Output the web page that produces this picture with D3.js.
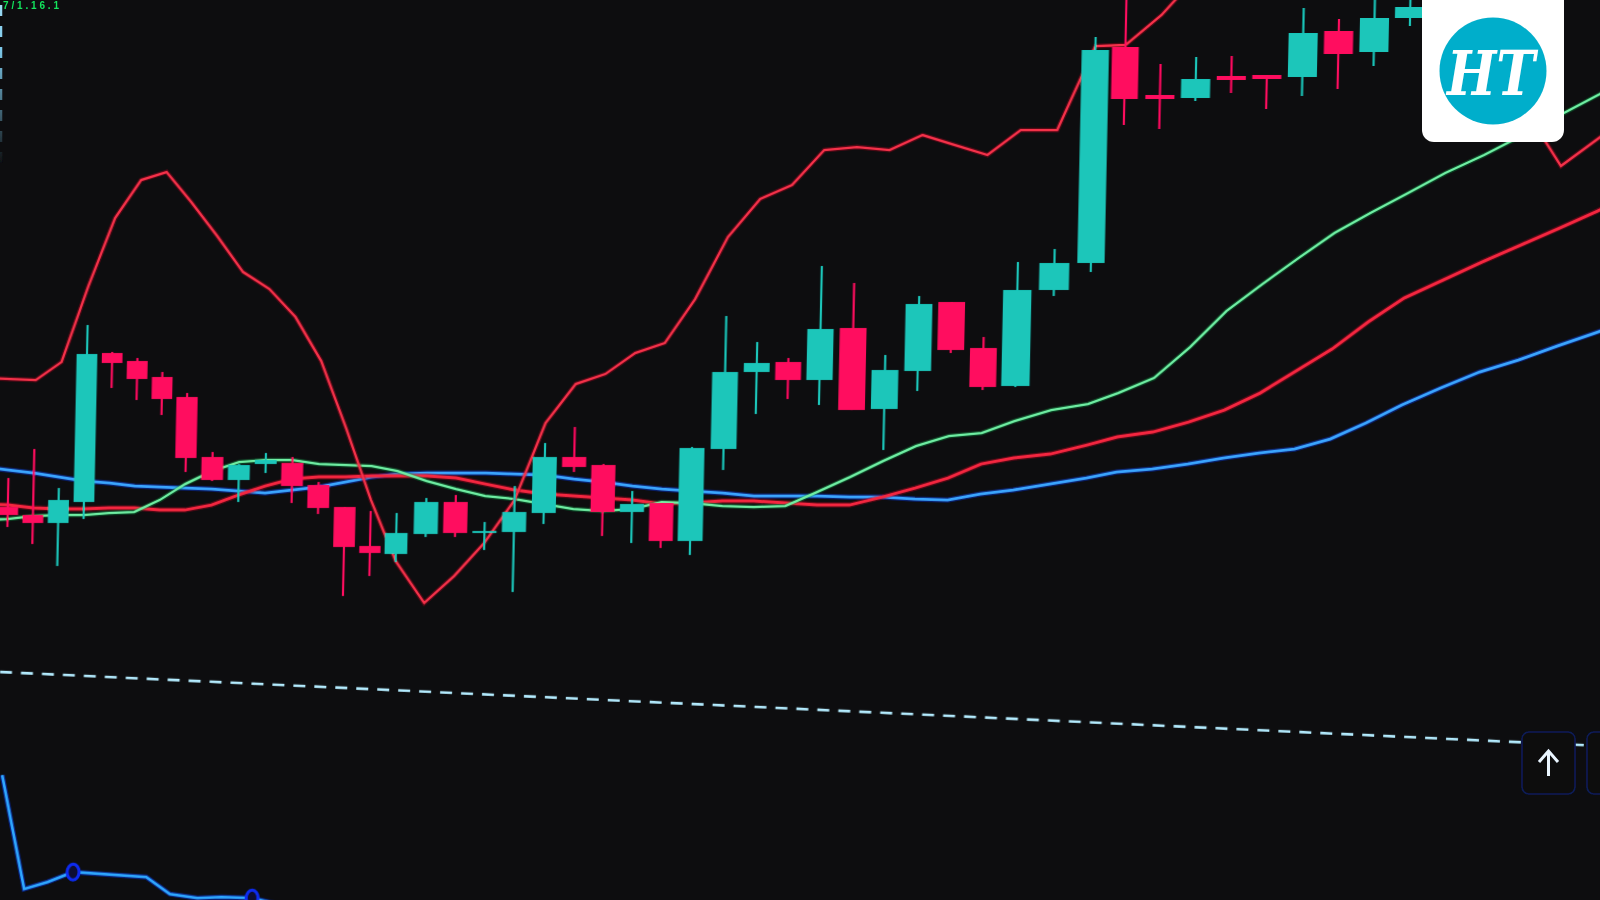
<!DOCTYPE html>
<html lang="en">
	<head>
		<meta charset="utf-8">
		<title>Candlestick chart</title>
		<script type="text/javascript" src="https://cdn.jsdelivr.net/npm/d3@7/dist/d3.min.js"></script>
		<style type="text/css">
			html, body { margin: 0; padding: 0; background: #0d0d0f; overflow: hidden; }
			svg { display: block; }
		</style>
	</head>
	<body>
		<script type="text/javascript">
			// candles, price units
			var candleOpen = [393,385,377,398,547,539,523,503,443,420,436,437,415,393,354,346,366,398,367,368,387,443,435,388,397,359,451,528,538,520,572,491,529,598,552,514,610,637,853,805,802,824,825,823,869,848,882];
			var candleClose = [385,377,400,546,537,521,501,442,420,435,440,414,392,353,347,367,398,367,369,388,443,433,388,396,359,452,528,537,520,571,490,530,596,550,513,610,637,850,801,801,821,820,821,867,846,882,893];
			var candleHigh = [422,451,412,575,548,542,528,507,448,436,447,443,418,393,389,387,402,405,378,414,457,473,436,409,397,453,584,558,542,634,617,545,604,598,563,638,651,863,905,836,843,844,825,892,881,905,905];
			var candleLow = [373,356,334,381,512,500,485,428,419,398,427,397,386,304,324,338,363,363,350,308,376,428,364,357,352,345,430,486,501,495,490,450,509,547,510,513,604,628,775,771,799,807,791,804,811,834,874];

			// overlays start one bar before the first candle
			var upperBand = [522,521,520,538,614,682,720,728,698,664,628,611,583,539,471,400,339,297,324,357,400,477,516,526,547,557,601,663,701,715,750,753,750,765,755,745,770,770,854,855,885,925,940,950,950,960,960,960,950,910,793,734,762,790];
			var fastLine = [380,381,384,385,385,387,388,400,416,429,438,440,440,436,435,434,429,419,411,404,401,396,391,389,391,398,397,394,393,394,408,423,439,454,464,467,479,490,496,507,522,553,589,616,642,667,687,706,727,745,765,786,806,830];
			var slowLine = [396,395,392,391,391,392,392,390,390,395,405,414,421,423,423,424,424,424,422,416,410,406,404,402,400,396,397,399,399,397,395,395,403,412,422,436,442,446,455,463,468,478,490,507,529,551,578,602,620,638,655,672,689,707];
			var baseLine = [433,430,427,423,419,417,414,413,412,411,409,407,410,413,418,423,426,427,427,427,426,425,421,418,414,411,409,407,404,404,404,403,403,401,400,406,410,416,422,428,431,436,442,447,451,461,477,495,512,528,540,554,567,580];
			var trendIndex = [-1, 52];
			var trendValues = [229, 153];

			// lower panel
			var oscIndex = [0,0.96,1.88,2.88,5.78,6.73,7.78,8.68,9.83,10.78,11.78];
			var oscValues = [125,11,18,28,23,6,2,3,2,-4,-8];
			var oscMarkers = [3, 8];

			var logoText = "HT";
			var cornerText = "7/1.16.1";

			var w = 1600;
			var h = 900;
			var teal = "#1ac6ba";
			var pink = "#ff0a5e";

			var svg = d3.select("body")
									.append("svg")
									.attr("width", w)
									.attr("height", h);

			var defs = svg.append("defs");
			defs.append("filter")
					.attr("id", "soft")
					.append("feGaussianBlur")
					.attr("stdDeviation", 0.45);

			var fade = defs.append("linearGradient")
					.attr("id", "fade")
					.attr("gradientUnits", "userSpaceOnUse")
					.attr("x1", 0).attr("y1", 0).attr("x2", 0).attr("y2", 165);
			fade.append("stop").attr("offset", "0").attr("stop-color", "#9fdcf5");
			fade.append("stop").attr("offset", "0.3").attr("stop-color", "#7cc8ea");
			fade.append("stop").attr("offset", "1").attr("stop-color", "#0d0d0f");

			svg.append("rect")
					.attr("width", w)
					.attr("height", h)
					.attr("fill", "#0d0d0f");

			// bars get wider to the right, the screen was shot at an angle
			var xScale = d3.scaleLinear()
											.domain([0, 3, 7, 13, 15, 25, 29, 35, 37, 38, 46, 50, 52])
											.range([9, 85, 186, 346, 398, 692, 818, 1014, 1087, 1117, 1401, 1555, 1630]);

			var yScale = d3.scaleLinear()
											.domain([0, 900])
											.range([900, 0]);

			var oscScale = d3.scaleLinear()
											.domain([0, 125])
											.range([900, 775]);

			function bandwidth(i) {
				return (xScale(i + 0.5) - xScale(i - 0.5)) * 0.82;
			}

			var chart = svg.append("g")
					.attr("filter", "url(#soft)")
					.attr("transform", "translate(0,450) skewX(-1.2) translate(0,-450)");

			// glow under, bright core on top
			function drawLine(values, glow, core, width) {
				var line = d3.line()
										.x(function(d, i) { return xScale(i - 1); })
										.y(function(d) { return yScale(d); });
				chart.append("path")
						.attr("d", line(values))
						.attr("fill", "none")
						.attr("stroke", glow)
						.attr("stroke-opacity", 0.4)
						.attr("stroke-width", width + 2.5);
				chart.append("path")
						.attr("d", line(values))
						.attr("fill", "none")
						.attr("stroke", core)
						.attr("stroke-width", width);
			}

			chart.append("line")
					.attr("x1", xScale(trendIndex[0]))
					.attr("y1", yScale(trendValues[0]))
					.attr("x2", xScale(trendIndex[1]))
					.attr("y2", yScale(trendValues[1]))
					.attr("stroke", "#b4ecff")
					.attr("stroke-width", 2.6)
					.attr("stroke-dasharray", "12,9");

			drawLine(baseLine, "#0a3cff", "#3aa6ff", 2.8);
			drawLine(slowLine, "#b0001e", "#f5263f", 3);
			drawLine(fastLine, "#008a3c", "#6ff0a4", 2.3);
			drawLine(upperBand, "#b0001e", "#f5304a", 2.3);

			var candles = chart.selectAll(".candle")
					.data(candleOpen)
					.enter()
					.append("g")
					.attr("class", "candle")
					.attr("fill", function(d, i) { return candleClose[i] >= d ? teal : pink; })
					.attr("stroke", function(d, i) { return candleClose[i] >= d ? teal : pink; });

			candles.append("line")
					.attr("x1", function(d, i) { return xScale(i); })
					.attr("x2", function(d, i) { return xScale(i); })
					.attr("y1", function(d, i) { return yScale(candleHigh[i]); })
					.attr("y2", function(d, i) { return yScale(candleLow[i]); })
					.attr("stroke-width", 2.2);

			candles.append("rect")
					.attr("x", function(d, i) { return xScale(i) - bandwidth(i) / 2; })
					.attr("y", function(d, i) { return yScale(Math.max(d, candleClose[i])); })
					.attr("width", function(d, i) { return bandwidth(i); })
					.attr("height", function(d, i) { return Math.abs(yScale(d) - yScale(candleClose[i])); })
					.attr("stroke", "none");

			// oscillator
			var oscLine = d3.line()
									.x(function(d, i) { return xScale(oscIndex[i]); })
									.y(function(d) { return oscScale(d); });
			chart.append("path")
					.attr("d", oscLine(oscValues))
					.attr("fill", "none")
					.attr("stroke", "#0a3cff")
					.attr("stroke-opacity", 0.5)
					.attr("stroke-width", 5);
			chart.append("path")
					.attr("d", oscLine(oscValues))
					.attr("fill", "none")
					.attr("stroke", "#2fa8ff")
					.attr("stroke-width", 2.6);

			chart.selectAll(".marker")
					.data(oscMarkers)
					.enter()
					.append("ellipse")
					.attr("class", "marker")
					.attr("cx", function(d) { return xScale(oscIndex[d]); })
					.attr("cy", function(d) { return oscScale(oscValues[d]); })
					.attr("rx", 6)
					.attr("ry", 8)
					.attr("fill", "#0d1030")
					.attr("stroke", "#0a2cf0")
					.attr("stroke-width", 3);

			// screen furniture, drawn straight
			var overlay = svg.append("g").attr("filter", "url(#soft)");

			overlay.append("line")
					.attr("x1", 1).attr("x2", 1.01)
					.attr("y1", 5).attr("y2", 165)
					.attr("stroke", "url(#fade)")
					.attr("stroke-width", 2.5)
					.attr("stroke-dasharray", "11,10");

			overlay.append("text")
					.attr("x", 3)
					.attr("y", 9)
					.attr("font-family", "'Liberation Sans', sans-serif")
					.attr("font-weight", "bold")
					.attr("font-size", 10)
					.attr("textLength", 56)
					.attr("fill", "#12e35c")
					.text(cornerText);

			[1522, 1587].forEach(function(bx) {
				overlay.append("rect")
						.attr("x", bx).attr("y", 732)
						.attr("width", 53).attr("height", 62)
						.attr("rx", 7)
						.attr("fill", "#0c0d11")
						.attr("stroke", "#0b1c58")
						.attr("stroke-width", 1.6);
			});

			overlay.append("path")
					.attr("d", "M1548.5,776V751M1539,762L1548.5,751L1558,762")
					.attr("fill", "none")
					.attr("stroke", "#eaf6ff")
					.attr("stroke-width", 3);

			overlay.append("path")
					.attr("d", "M1422,0H1564V130a12,12 0 0 1 -12,12H1434a12,12 0 0 1 -12,-12Z")
					.attr("fill", "#ffffff");

			overlay.append("circle")
					.attr("cx", 1493)
					.attr("cy", 71)
					.attr("r", 53.5)
					.attr("fill", "#05aecb");

			overlay.append("text")
					.attr("x", 1491)
					.attr("y", 95)
					.attr("text-anchor", "middle")
					.attr("font-family", "'DejaVu Serif', serif")
					.attr("font-weight", "bold")
					.attr("font-style", "italic")
					.attr("font-size", 62)
					.attr("textLength", 88)
					.attr("lengthAdjust", "spacingAndGlyphs")
					.attr("fill", "#ffffff")
					.text(logoText);
		</script>
	</body>
</html>
